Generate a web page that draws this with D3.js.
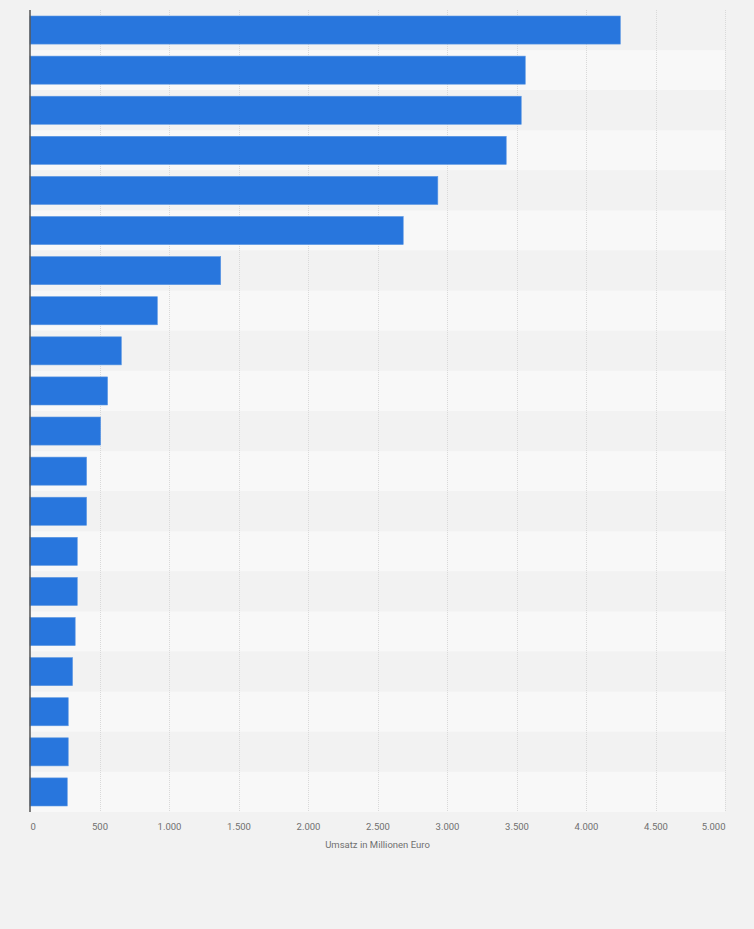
<!DOCTYPE html>
<html>
<head>
<meta charset="utf-8">
<script src="https://cdn.jsdelivr.net/npm/d3@7"></script>
<style>
  html, body { margin: 0; padding: 0; background: #f2f2f2; }
  svg { display: block; font-family: Roboto, "Liberation Sans", Arial, sans-serif; }
</style>
</head>
<body>
<div id="chart"></div>
<script>
// Category labels are not shown in the picture, so the rows are just ranked
const categories = ["1", "2", "3", "4", "5", "6", "7", "8", "9", "10",
                    "11", "12", "13", "14", "15", "16", "17", "18", "19", "20"];
// Umsatz in Millionen Euro
const values = [4247, 3563, 3534, 3426, 2934, 2685, 1372, 916, 657, 558,
                508, 407, 407, 340, 340, 325, 306, 275, 275, 268];
const xTicks = [0, 500, 1000, 1500, 2000, 2500, 3000, 3500, 4000, 4500, 5000];
const xTitle = "Umsatz in Millionen Euro";

const width = 754;
const height = 929;
const margin = { top: 10, right: 29, bottom: 117, left: 30 };

const svg = d3.select("#chart")
    .append("svg")
    .attr("width", width)
    .attr("height", height);

svg.append("rect")
    .attr("width", width)
    .attr("height", height)
    .attr("fill", "#f2f2f2");

const x = d3.scaleLinear()
    .domain([0, 5000])
    .range([margin.left, width - margin.right]);

const y = d3.scaleBand()
    .domain(categories)
    .range([margin.top, height - margin.bottom])
    .paddingInner(0.3)
    .paddingOuter(0.15);

// alternating row stripes
const step = y.step();
svg.append("g")
    .selectAll("rect")
    .data(categories)
    .join("rect")
    .attr("x", margin.left)
    .attr("width", x(5000) - margin.left)
    .attr("y", (d, i) => margin.top + i * step)
    .attr("height", step)
    .attr("fill", (d, i) => i % 2 === 0 ? "#f2f2f2" : "#f8f8f8");

// dotted vertical grid
svg.append("g")
    .selectAll("line")
    .data(xTicks.slice(1))
    .join("line")
    .attr("x1", d => Math.round(x(d)) + 0.5)
    .attr("x2", d => Math.round(x(d)) + 0.5)
    .attr("y1", margin.top)
    .attr("y2", height - margin.bottom)
    .attr("stroke", "#d9d9d9")
    .attr("stroke-width", 1)
    .attr("stroke-dasharray", "1,1");

// bars
svg.append("g")
    .selectAll("rect")
    .data(values)
    .join("rect")
    .attr("x", x(0))
    .attr("y", (d, i) => y(categories[i]))
    .attr("width", d => x(d) - x(0))
    .attr("height", y.bandwidth())
    .attr("fill", "#2876dd")
    .attr("stroke", "#5b97e3")
    .attr("stroke-width", 0.6);

// y axis line
svg.append("line")
    .attr("x1", x(0))
    .attr("x2", x(0))
    .attr("y1", margin.top)
    .attr("y2", height - margin.bottom)
    .attr("stroke", "#555")
    .attr("stroke-width", 1.5);

// x axis labels (first and last pushed inside like the original)
const xAxis = d3.axisBottom(x)
    .tickValues(xTicks)
    .tickSize(0)
    .tickPadding(0)
    .tickFormat(d => d3.format(",")(d).replace(/,/g, "."));

const gx = svg.append("g")
    .attr("transform", `translate(0,${height - margin.bottom + 11})`)
    .call(xAxis);
gx.select(".domain").remove();
gx.selectAll("text")
    .attr("fill", "#707070")
    .attr("font-size", 9.5)
    .attr("font-family", "Roboto, 'Liberation Sans', Arial, sans-serif")
    .attr("text-anchor", (d, i) => i === 0 ? "start" : (i === xTicks.length - 1 ? "end" : "middle"));

svg.append("text")
    .attr("x", (x(0) + x(5000)) / 2)
    .attr("y", height - margin.bottom + 36)
    .attr("text-anchor", "middle")
    .attr("fill", "#707070")
    .attr("font-size", 9.5)
    .text(xTitle);
</script>
</body>
</html>
